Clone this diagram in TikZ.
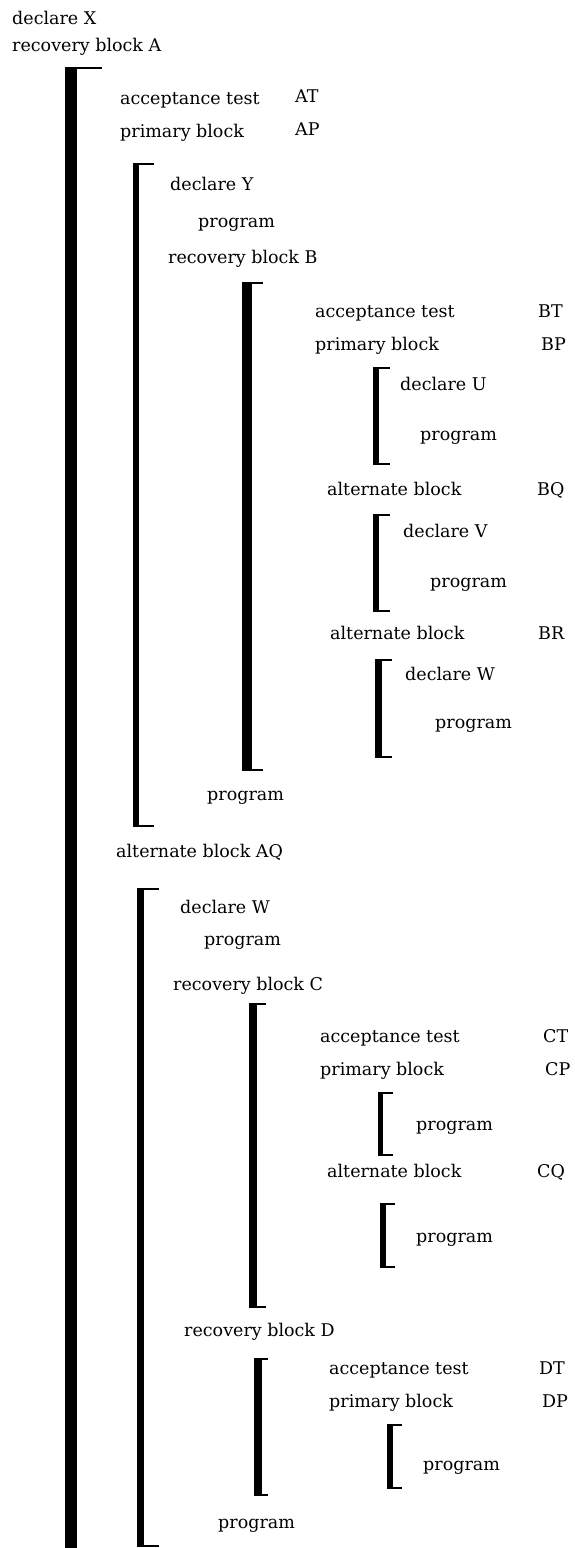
\documentclass[tikz,border=0pt]{standalone}
\usepackage{fontspec}
\setmainfont{DejaVu Serif}
\tikzset{
	txt/.style={anchor=base west, inner sep=0pt, font=\fontsize{17.5}{20}\selectfont},
	bar/.style={fill=black},
	arm/.style={line width=2pt},
}
% bracket: left x, bar width, top y, bottom y, end of arms
\newcommand{\blockbar}[5]{%
	\fill[bar] (#1,#3) rectangle (#1+#2,#4);
	\draw[arm] (#1,#3+1) -- (#5,#3+1);
	\draw[arm] (#1,#4-1) -- (#5,#4-1);
}

\begin{document}
\begin{tikzpicture}[x=1pt,y=-1pt]
	\useasboundingbox (0,0) rectangle (574,1548);

	% outer level
	\node[txt] (declX) at (12,24) {declare X};
	\node[txt] (recA) at (12,51) {recovery block A};
	\fill[bar] (65,67) rectangle (77,1548);
	\draw[arm] (65,68) -- (102,68);

	\node[txt] (atA) at (120,104) {acceptance test};
	\node[txt] (atAn) at (295,102) {AT};
	\node[txt] (pbA) at (120,137) {primary block};
	\node[txt] (pbAn) at (295,135) {AP};

	% primary block AP
	\blockbar{133}{6}{163}{827}{154}
	\node[txt] (declY) at (170,190) {declare Y};
	\node[txt] (progY) at (198,227) {program};
	\node[txt] (recB) at (168,263) {recovery block B};

	\blockbar{242}{10}{282}{771}{263}
	\node[txt] (atB) at (315,317) {acceptance test};
	\node[txt] (atBn) at (538,317) {BT};
	\node[txt] (pbB) at (315,350) {primary block};
	\node[txt] (pbBn) at (541,350) {BP};

	\blockbar{373}{6}{367}{465}{390}
	\node[txt] (declU) at (400,390) {declare U};
	\node[txt] (progU) at (420,440) {program};

	\node[txt] (altBQ) at (327,495) {alternate block};
	\node[txt] (altBQn) at (537,495) {BQ};
	\blockbar{373}{6}{514}{612}{390}
	\node[txt] (declV) at (403,537) {declare V};
	\node[txt] (progV) at (430,587) {program};

	\node[txt] (altBR) at (330,639) {alternate block};
	\node[txt] (altBRn) at (538,639) {BR};
	\blockbar{375}{7}{659}{758}{392}
	\node[txt] (declWa) at (405,680) {declare W};
	\node[txt] (progWa) at (435,728) {program};

	\node[txt] (progB) at (207,800) {program};

	% alternate block AQ
	\node[txt] (altAQ) at (116,857) {alternate block AQ};
	\blockbar{137}{7}{888}{1547}{159}
	\node[txt] (declWb) at (180,913) {declare W};
	\node[txt] (progWb) at (204,945) {program};
	\node[txt] (recC) at (173,990) {recovery block C};

	\blockbar{249}{8}{1003}{1308}{266}
	\node[txt] (atC) at (320,1042) {acceptance test};
	\node[txt] (atCn) at (543,1042) {CT};
	\node[txt] (pbC) at (320,1075) {primary block};
	\node[txt] (pbCn) at (545,1075) {CP};
	\blockbar{378}{5}{1092}{1156}{393}
	\node[txt] (progCP) at (416,1130) {program};
	\node[txt] (altCQ) at (327,1177) {alternate block};
	\node[txt] (altCQn) at (537,1177) {CQ};
	\blockbar{380}{6}{1203}{1268}{395}
	\node[txt] (progCQ) at (416,1242) {program};

	\node[txt] (recD) at (184,1336) {recovery block D};
	\blockbar{254}{8}{1358}{1496}{268}
	\node[txt] (atD) at (329,1374) {acceptance test};
	\node[txt] (atDn) at (539,1374) {DT};
	\node[txt] (pbD) at (329,1407) {primary block};
	\node[txt] (pbDn) at (542,1407) {DP};
	\blockbar{387}{6}{1424}{1489}{402}
	\node[txt] (progDP) at (423,1470) {program};

	\node[txt] (progAQ) at (218,1528) {program};
\end{tikzpicture}
\end{document}
